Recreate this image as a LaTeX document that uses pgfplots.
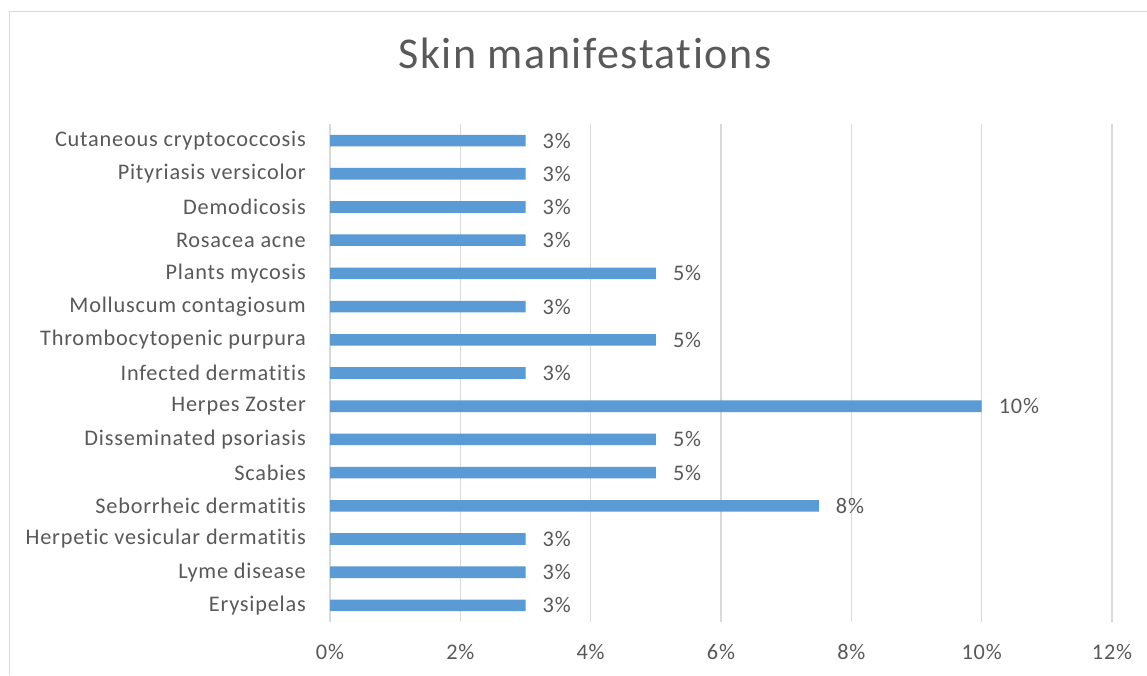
\documentclass[border=0pt]{standalone}
\usepackage{pgfplots}
\pgfplotsset{compat=1.18}
\usepackage{fontspec}
\setmainfont{Carlito}[Ligatures=NoCommon, LetterSpace=3.5]
\definecolor{txt}{HTML}{595959}
\definecolor{grd}{HTML}{D9D9D9}
\definecolor{barc}{HTML}{5B9BD5}
\pgfplotstableread{
i v l
0 3 3
1 3 3
2 3 3
3 7.5 8
4 5 5
5 5 5
6 10 10
7 3 3
8 5 5
9 3 3
10 5 5
11 3 3
12 3 3
13 3 3
14 3 3
}\skindata
\begin{document}
\begin{tikzpicture}[x=1pt,y=1pt]
\useasboundingbox (0,0) rectangle (1147,675);
\fill[white] (0,0) rectangle (1147,675);
\draw[grd, line width=1.3pt] (9.5,0) -- (9.5,663.5) -- (1147,663.5);
\node[anchor=base, text=txt, font=\fontsize{44}{52}\selectfont] at (585,606) {Skin manifestations};
\begin{axis}[at={(330pt,53pt)}, anchor=south west, scale only axis,
 width=782pt, height=498pt,
 xbar, bar width=11.6pt, xmin=0, xmax=12, ymin=-0.5, ymax=14.5,
 xtick={0,2,...,12}, xticklabels={0\%,2\%,4\%,6\%,8\%,10\%,12\%},
 ytick={0,...,14},
 yticklabels={Erysipelas,Lyme disease,Herpetic vesicular dermatitis,Seborrheic dermatitis,Scabies,Disseminated psoriasis,Herpes Zoster\ ,Infected dermatitis,Thrombocytopenic purpura,Molluscum contagiosum,Plants mycosis\ ,Rosacea acne,Demodicosis,Pityriasis versicolor,Cutaneous cryptococcosis},
 axis line style={draw=none}, major tick length=0pt,
 xmajorgrids, grid style={grd, line width=1.3pt},
 tick label style={text=txt, font=\fontsize{22.3}{26}\selectfont},
 xticklabel style={anchor=north, inner sep=0pt, yshift=-22pt},
 yticklabel style={anchor=east, inner sep=0pt, xshift=-24pt},
 point meta=explicit symbolic,
 nodes near coords={\pgfplotspointmeta\%},
 every node near coord/.append style={anchor=west, inner sep=0pt, xshift=17pt, text=txt, font=\fontsize{22.3}{26}\selectfont},
 clip=false]
\addplot[fill=barc, draw=none] table[x=v, y=i, meta=l] {\skindata};
\end{axis}
\end{tikzpicture}
\end{document}
